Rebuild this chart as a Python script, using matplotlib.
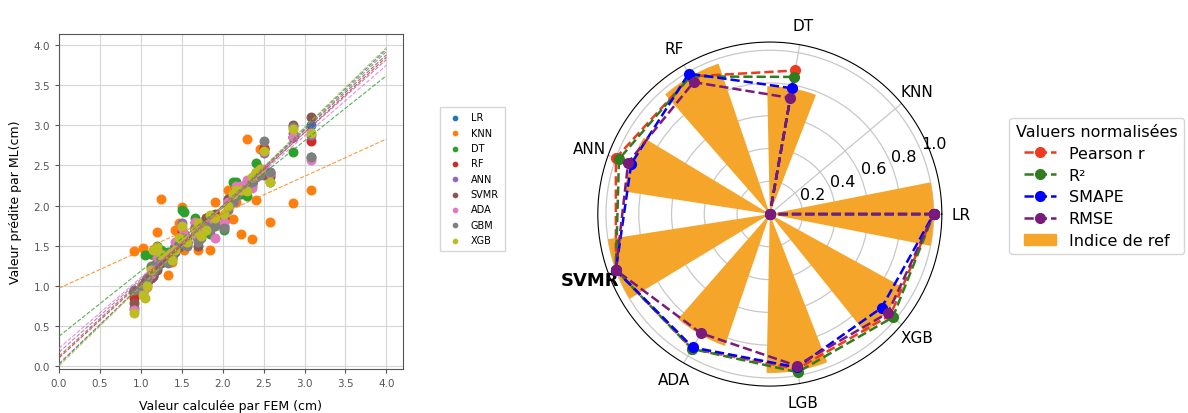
import numpy as np
import matplotlib
matplotlib.use("Agg")
import matplotlib.pyplot as plt
from matplotlib.lines import Line2D
from matplotlib.patches import Patch

# --- scatter data (FEM vs ML predicted, cm) ---
fem = [0.92, 1.02, 1.05, 1.08, 1.12, 1.15, 1.20, 1.25, 1.33, 1.38, 1.42, 1.46,
       1.50, 1.53, 1.56, 1.66, 1.70, 1.74, 1.80, 1.85, 1.90, 2.02, 2.06, 2.12,
       2.16, 2.22, 2.30, 2.36, 2.41, 2.45, 2.51, 2.58, 2.86, 3.08]

models = ["LR", "KNN", "DT", "RF", "ANN", "SVMR", "ADA", "GBM", "XGB"]

pred_lr = [0.93, 0.98, 1.02, 1.05, 1.10, 1.12, 1.22, 1.30, 1.30, 1.38, 1.42, 1.52,
           1.62, 1.58, 1.55, 1.70, 1.58, 1.75, 1.72, 1.82, 1.86, 1.75, 2.00, 2.08,
           2.20, 2.18, 2.28, 2.30, 2.38, 2.45, 2.40, 2.40, 2.85, 3.00]
pred_knn = [1.43, 1.47, 1.05, 0.98, 1.22, 1.38, 1.67, 2.08, 1.13, 1.30, 1.70, 1.78,
            1.98, 1.45, 1.60, 1.70, 1.44, 1.65, 1.75, 1.44, 2.05, 1.72, 2.20, 1.83,
            2.05, 1.64, 2.83, 1.58, 2.07, 2.70, 2.70, 1.80, 2.03, 2.20]
pred_dt = [0.90, 1.00, 1.38, 1.05, 1.40, 1.15, 1.50, 1.45, 1.42, 1.35, 1.50, 1.55,
           1.95, 1.92, 1.60, 1.85, 1.60, 1.70, 1.80, 1.65, 1.90, 1.70, 2.08, 2.30,
           2.30, 2.15, 2.12, 2.28, 2.53, 2.45, 2.70, 2.30, 2.67, 2.60]
pred_rf = [0.85, 0.98, 1.05, 1.08, 1.15, 1.18, 1.28, 1.35, 1.35, 1.38, 1.45, 1.50,
           1.68, 1.62, 1.55, 1.72, 1.58, 1.75, 1.85, 1.75, 1.88, 1.85, 2.05, 2.10,
           2.20, 2.20, 2.25, 2.30, 2.40, 2.45, 2.72, 2.38, 2.85, 2.80]
pred_ann = [0.72, 0.95, 1.00, 1.05, 1.12, 1.15, 1.25, 1.30, 1.32, 1.40, 1.48, 1.55,
            1.78, 1.65, 1.52, 1.75, 1.62, 1.70, 1.78, 1.72, 1.85, 1.80, 2.00, 2.05,
            2.15, 2.22, 2.30, 2.25, 2.35, 2.42, 2.65, 2.42, 2.90, 2.88]
pred_svmr = [0.78, 0.92, 1.00, 1.03, 1.10, 1.12, 1.20, 1.28, 1.30, 1.35, 1.50, 1.48,
             1.62, 1.60, 1.55, 1.80, 1.50, 1.68, 1.85, 1.80, 1.82, 1.88, 2.08, 2.10,
             2.15, 2.20, 2.22, 2.28, 2.40, 2.45, 2.38, 2.35, 3.00, 3.10]
pred_ada = [0.70, 0.92, 0.98, 1.08, 1.15, 1.20, 1.35, 1.40, 1.35, 1.42, 1.55, 1.60,
            1.72, 1.65, 1.50, 1.80, 1.60, 1.72, 1.70, 1.78, 1.60, 1.80, 2.05, 2.15,
            2.25, 2.25, 2.32, 2.22, 2.38, 2.42, 2.45, 2.40, 2.85, 2.57]
pred_gbm = [0.95, 1.00, 1.05, 1.10, 1.25, 1.18, 1.25, 1.32, 1.28, 1.40, 1.45, 1.52,
            1.60, 1.55, 1.50, 1.72, 1.55, 1.60, 1.75, 1.70, 1.75, 1.72, 1.95, 2.05,
            2.12, 2.18, 2.20, 2.30, 2.40, 2.38, 2.80, 2.42, 2.98, 2.60]
pred_xgb = [0.66, 0.88, 0.85, 1.00, 1.20, 1.45, 1.48, 1.38, 1.40, 1.32, 1.45, 1.60,
            1.75, 1.58, 1.55, 1.68, 1.78, 1.62, 1.70, 1.88, 1.85, 1.90, 2.00, 2.15,
            2.20, 2.20, 2.18, 2.35, 2.42, 2.45, 2.68, 2.30, 2.95, 2.90]

preds = [pred_lr, pred_knn, pred_dt, pred_rf, pred_ann, pred_svmr, pred_ada, pred_gbm, pred_xgb]

# regression lines: value at x=0 and at x=4
fit_y0 = [0.02, 0.97, 0.37, 0.10, 0.17, 0.12, 0.22, 0.03, 0.00]
fit_y4 = [3.95, 2.83, 3.62, 3.85, 3.82, 3.88, 3.75, 3.92, 3.97]

# --- radar data ---
radar_models = ["LR", "KNN", "DT", "RF", "ANN", "SVMR", "ADA", "LGB", "XGB"]
pearson = [1.00, 0.0, 0.89, 0.97, 1.00, 1.00, 0.95, 0.96, 0.96]
r2 = [1.00, 0.0, 0.85, 0.97, 0.98, 1.00, 0.95, 0.98, 0.98]
smape = [1.00, 0.0, 0.78, 0.99, 0.90, 1.00, 0.94, 0.95, 0.89]
rmse = [1.00, 0.0, 0.72, 0.93, 0.92, 1.00, 0.84, 0.94, 0.94]
ref_index = [1.00, 0.0, 0.78, 0.97, 0.90, 1.00, 0.85, 0.97, 0.93]

fig = plt.figure(figsize=(11.88, 4.14), dpi=100)

# ---------------- scatter ----------------
ax = fig.add_axes([0.0497, 0.106, 0.2893, 0.8095])
colors = plt.rcParams["axes.prop_cycle"].by_key()["color"]
for i, name in enumerate(models):
    ax.scatter(fem, preds[i], s=38, color=colors[i], label=name, zorder=2)
xl = np.array([0.0, 4.0])
for i in range(len(models)):
    ax.plot(xl, [fit_y0[i], fit_y4[i]], linestyle="--", linewidth=0.8,
            color=colors[i], alpha=0.8, zorder=3)
ax.set_xlim(0, 4.2)
ax.set_ylim(-0.04, 4.14)
ax.set_xticks(np.arange(0, 4.01, 0.5))
ax.set_yticks(np.arange(0, 4.01, 0.5))
ax.grid(True, color="#d5d5d5", linewidth=0.8)
ax.set_axisbelow(True)
ax.tick_params(labelsize=7.5, labelcolor="#555555", color="#555555", length=3)
for s in ax.spines.values():
    s.set_color("#555555")
ax.set_xlabel("Valeur calculée par FEM (cm)", fontsize=9, labelpad=8)
ax.set_ylabel("Valeur prédite par ML(cm)", fontsize=9, labelpad=8)

fig.legend(handles=ax.collections, labels=models, loc="upper left",
           bbox_to_anchor=(0.366, 0.752), fontsize=7, markerscale=0.5,
           handletextpad=0.6, labelspacing=0.55, borderpad=0.6,
           frameon=True, edgecolor="#cccccc", fancybox=False)

# ---------------- radar ----------------
pax = fig.add_axes([0.503, 0.065, 0.290, 0.831], projection="polar")
angles = np.deg2rad(np.arange(0, 360, 40))
pax.bar(angles, ref_index, width=0.39, color="#f5a52a", zorder=1)
closed = np.append(angles, angles[0])
series = [(pearson, "#ee3a1f", "Pearson r"), (r2, "#2f7d1f", "R²"),
          (smape, "blue", "SMAPE"), (rmse, "#7a1a7d", "RMSE")]
for vals, c, lab in series:
    pax.plot(closed, vals + vals[:1], linestyle="--", linewidth=1.8, color=c,
             marker="o", markersize=7, label=lab, zorder=3)
pax.set_ylim(0, 1.05)
pax.set_yticks([0.2, 0.4, 0.6, 0.8, 1.0])
pax.set_yticklabels(["0.2", "0.4", "0.6", "0.8", "1.0"], fontsize=11.5)
pax.set_rlabel_position(22.5)
pax.set_xticks(angles)
pax.set_xticklabels(radar_models, fontsize=11)
for lbl in pax.get_xticklabels():
    if lbl.get_text() == "SVMR":
        lbl.set_fontweight("bold")
        lbl.set_fontsize(13)
pax.set_axisbelow(True)
pax.grid(True, color="#c8c8c8", linewidth=0.9)

handles = [Line2D([], [], linestyle="--", linewidth=1.8, color=c, marker="o",
                  markersize=7) for _, c, _ in series]
handles.append(Patch(color="#f5a52a"))
fig.legend(handles=handles, labels=[s[2] for s in series] + ["Indice de ref"],
           title="Valuers normalisées", loc="upper left",
           bbox_to_anchor=(0.843, 0.732), fontsize=11.5, title_fontsize=11.5,
           handlelength=2.0, labelspacing=0.42)

plt.savefig("out.png", dpi=100)
